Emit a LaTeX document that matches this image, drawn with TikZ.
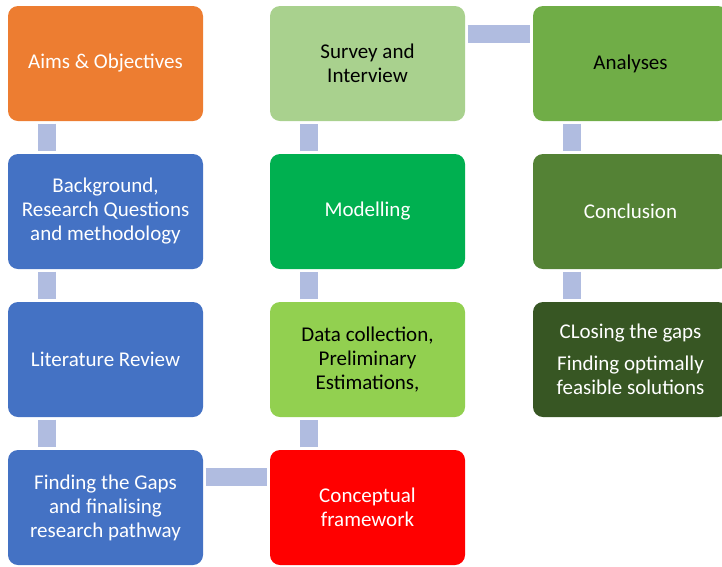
\documentclass[tikz,border=0pt]{standalone}
\usepackage{fontspec}
\setmainfont{Carlito}
\definecolor{orangec}{HTML}{ED7D31}
\definecolor{bluec}{HTML}{4472C4}
\definecolor{palegreen}{HTML}{A9D18E}
\definecolor{brightgreen}{HTML}{00B050}
\definecolor{limec}{HTML}{92D050}
\definecolor{redc}{HTML}{FF0000}
\definecolor{midgreen}{HTML}{70AD47}
\definecolor{darkgreen}{HTML}{548235}
\definecolor{deepgreen}{HTML}{375623}
\definecolor{linkc}{HTML}{B0BCE0}
\begin{document}
\begin{tikzpicture}[x=1pt,y=-1pt,
  box/.style={rectangle, rounded corners=10pt, minimum width=195pt, minimum height=115pt,
    inner sep=0pt, align=center, font=\fontsize{21}{24}\selectfont, text=white},
  dark/.style={text=black},
  link/.style={draw=linkc, line width=18pt, line cap=butt, shorten >=2.5pt, shorten <=2.5pt}]
\useasboundingbox (0,0) rectangle (722,566);
\clip (0,0) rectangle (722,566);

% first column
\node[box, fill=orangec] (aims) at (105.5,63.5) {Aims \& Objectives};
\node[box, fill=bluec] (back) at (105.5,211.5) {Background,\\Research Questions\\and methodology};
\node[box, fill=bluec] (lit) at (105.5,359.5) {Literature Review};
\node[box, fill=bluec] (gaps) at (105.5,507.5) {Finding the Gaps\\and finalising\\research pathway};

% second column
\node[box, dark, fill=palegreen] (survey) at (367.5,63.5) {Survey and\\Interview};
\node[box, fill=brightgreen] (model) at (367.5,211.5) {Modelling};
\node[box, dark, fill=limec] (data) at (367.5,359.5) {Data collection,\\Preliminary\\Estimations,};
\node[box, fill=redc] (concept) at (367.5,507.5) {Conceptual\\framework};

% third column
\node[box, dark, fill=midgreen] (anal) at (630.5,63.5) {Analyses};
\node[box, fill=darkgreen] (concl) at (630.5,211.5) {Conclusion};
\node[box, fill=deepgreen] (close) at (630.5,359.5) {CLosing the gaps\\[8pt]Finding optimally\\feasible solutions};

% connecting bars
\draw[link] ([xshift=39pt]aims.south west) -- ([xshift=39pt]back.north west);
\draw[link] ([xshift=39pt]back.south west) -- ([xshift=39pt]lit.north west);
\draw[link] ([xshift=39pt]lit.south west) -- ([xshift=39pt]gaps.north west);
\draw[link] ([yshift=-27.5pt]gaps.north east) -- ([yshift=-27.5pt]concept.north west);
\draw[link] ([xshift=39pt]concept.north west) -- ([xshift=39pt]data.south west);
\draw[link] ([xshift=39pt]data.north west) -- ([xshift=39pt]model.south west);
\draw[link] ([xshift=39pt]model.north west) -- ([xshift=39pt]survey.south west);
\draw[link] ([yshift=-28pt]survey.north east) -- ([yshift=-28pt]anal.north west);
\draw[link] ([xshift=39pt]anal.south west) -- ([xshift=39pt]concl.north west);
\draw[link] ([xshift=39pt]concl.south west) -- ([xshift=39pt]close.north west);
\end{tikzpicture}
\end{document}
